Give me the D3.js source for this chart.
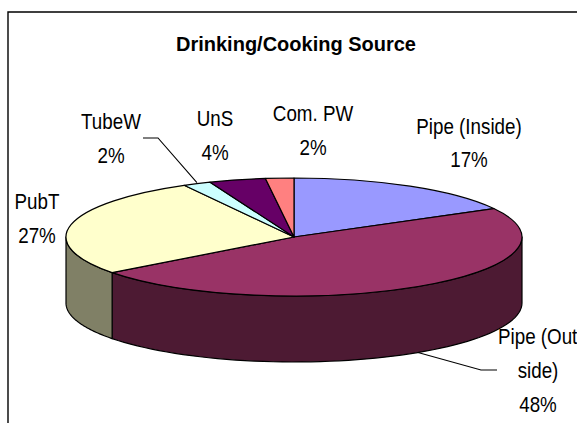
<!DOCTYPE html>
<html><head><meta charset="utf-8">
<script src="https://cdnjs.cloudflare.com/ajax/libs/d3/7.8.5/d3.min.js"></script>
<style>html,body{margin:0;padding:0;background:#fff}svg{display:block}text{font-family:"Liberation Sans",Arial,sans-serif;fill:#000}</style>
</head><body><svg id="c" width="577" height="423"></svg>
<script>
const title = "Drinking/Cooking Source";
const categories = ["Pipe (Inside)", "Pipe (Outside)", "PubT", "TubeW", "UnS", "Com. PW"];
const values = [17, 47.7, 27.3, 2, 4, 2];
const topColors = ["#9999FF", "#993366", "#FFFFCC", "#CCFFFF", "#660066", "#FF8080"];
const sideColors = ["#4D4D80", "#4D1A33", "#808066", "#668080", "#330033", "#804040"];
const labelLines = [["Pipe (Inside)", "17%"], ["Pipe (Out", "side)", "48%"], ["PubT", "27%"], ["TubeW", "2%"], ["UnS", "4%"], ["Com. PW", "2%"]];
const labelX = [469, 538, 37, 111, 215, 313];
const labelY = [134, 344, 209, 129, 126, 121];
const labelGap = [33, 34, 34, 34, 34, 34];

const W = 577, H = 423, cx = 294, cy = 237, rx = 228, ry = 59, depth = 66;
const svg = d3.select("#c");
svg.append("path").attr("d", `M8 ${H}V12H${W}`).attr("fill", "none").attr("stroke", "#000").attr("stroke-width", 1.4);
svg.append("text").attr("x", 296).attr("y", 50.5).attr("text-anchor", "middle").attr("font-size", 21).attr("font-weight", "bold").attr("textLength", 240).attr("lengthAdjust", "spacingAndGlyphs").text(title);

const pie = d3.pie().sort(null).value(d => d).startAngle(0).endAngle(2 * Math.PI);
const arcs = pie(values);
const xAt = a => cx + rx * Math.sin(a), yAt = a => cy - ry * Math.cos(a);
const sweep = (a0, a1, dy) => {
  const s = d3.scaleLinear().domain([0, 60]).range([a0, a1]);
  return d3.range(61).map(i => [xAt(s(i)), yAt(s(i)) + dy]);
};
const line = d3.line();
const HALF = Math.PI / 2, BACK = 3 * Math.PI / 2;
arcs.forEach((d, i) => {
  const a0 = Math.max(d.startAngle, HALF), a1 = Math.min(d.endAngle, BACK);
  if (a1 <= a0) return;
  const pts = sweep(a0, a1, 0).concat(sweep(a0, a1, depth).reverse());
  svg.append("path").attr("d", line(pts) + "Z").attr("fill", sideColors[i]).attr("stroke", "#000").attr("stroke-width", 1.2).attr("stroke-linejoin", "round");
});
const arc = d3.arc().innerRadius(0).outerRadius(rx);
svg.append("g").attr("transform", `translate(${cx},${cy}) scale(1,${ry / rx})`)
  .selectAll("path").data(arcs).join("path")
  .attr("d", arc).attr("fill", (d, i) => topColors[i])
  .attr("stroke", "#000").attr("stroke-width", 1.2).attr("vector-effect", "non-scaling-stroke").attr("stroke-linejoin", "round");

const mid = d => (d.startAngle + d.endAngle) / 2;
const leader = (d, dy, elbow, end) => [[xAt(mid(d)), yAt(mid(d)) + dy], elbow, end];
[leader(arcs[3], -1, [158, 138], [143, 138]), leader(arcs[1], depth, [481, 370], [497, 370])].forEach(p =>
  svg.append("path").attr("d", line(p)).attr("fill", "none").attr("stroke", "#000").attr("stroke-width", 1.1));

labelLines.forEach((ls, i) => ls.forEach((t, j) => {
  const first = i === 1 && j === 0;
  svg.append("text").attr("transform", `translate(${first ? 498 : labelX[i]},${labelY[i] + j * labelGap[i]}) scale(0.94,1.12)`)
    .attr("text-anchor", first ? "start" : "middle").attr("font-size", 20).text(t);
}));
</script></body></html>
